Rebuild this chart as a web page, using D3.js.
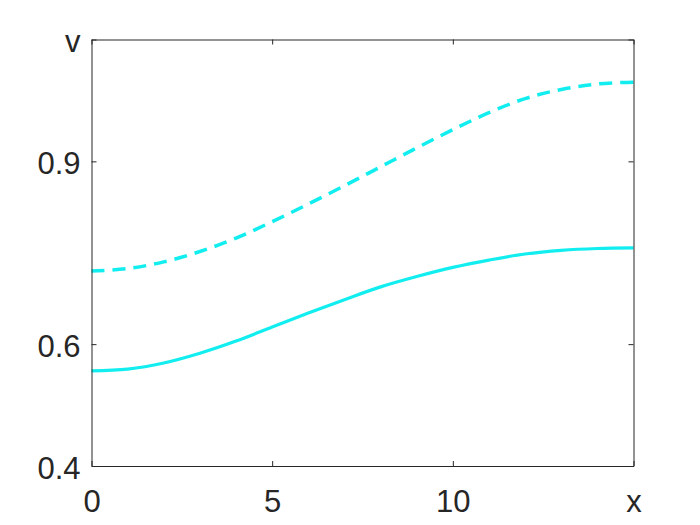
<!DOCTYPE html>
<html>
<head>
<meta charset="utf-8">
<script src="https://cdn.jsdelivr.net/npm/d3@7"></script>
<style>
  body { margin: 0; background: #fff; }
  svg { display: block; }
  .axis text { font-family: "Liberation Sans", Arial, sans-serif; font-size: 31px; fill: #262626; }
  .axis path, .axis line { stroke: #262626; stroke-width: 1; }
</style>
</head>
<body>
<svg width="700" height="525"></svg>
<script>
// values
var xs = [0, 1, 2, 3, 4, 5, 6, 7, 8, 9, 10, 11, 12, 13, 14, 15];
var solid = [0.556, 0.559, 0.569, 0.585, 0.605, 0.628, 0.651, 0.673, 0.694, 0.711, 0.726, 0.738, 0.748, 0.754, 0.757, 0.758];
var dashed = [0.720, 0.724, 0.735, 0.752, 0.774, 0.801, 0.830, 0.860, 0.891, 0.922, 0.952, 0.980, 1.003, 1.018, 1.027, 1.030];
var xTicks = [0, 5, 10, 15], xLabels = ["0", "5", "10", "x"];
var yTicks = [0.4, 0.6, 0.9, 1.1], yLabels = ["0.4", "0.6", "0.9", "v"];

var svg = d3.select("svg"),
    margin = {top: 39.5, right: 66.5, bottom: 59, left: 91.5},
    width = +svg.attr("width") - margin.left - margin.right,
    height = +svg.attr("height") - margin.top - margin.bottom,
    g = svg.append("g").attr("transform", "translate(" + margin.left + "," + margin.top + ")");

var x = d3.scaleLinear().domain([0, 15]).range([0, width]);
var y = d3.scaleLinear().domain([0.4, 1.1]).range([height, 0]);

var line = d3.line()
    .x(function(d, i) { return x(xs[i]); })
    .y(function(d) { return y(d); })
    .curve(d3.curveCatmullRom.alpha(0.5));

g.append("path")
    .datum(dashed)
    .attr("fill", "none")
    .attr("stroke", "#12eef0")
    .attr("stroke-width", 3.5)
    .attr("stroke-dasharray", "13,8")
    .attr("d", line);

g.append("path")
    .datum(solid)
    .attr("fill", "none")
    .attr("stroke", "#12eef0")
    .attr("stroke-width", 3.2)
    .attr("d", line);

// box with inward ticks
g.append("g")
    .attr("class", "axis")
    .attr("transform", "translate(0," + height + ")")
    .call(d3.axisBottom(x).tickValues(xTicks).tickSizeInner(-5).tickSizeOuter(0).tickPadding(24)
      .tickFormat(function(d, i) { return xLabels[i]; }));

g.append("g")
    .attr("class", "axis")
    .call(d3.axisTop(x).tickValues(xTicks).tickSizeInner(-5).tickSizeOuter(0).tickFormat(""));

g.append("g")
    .attr("class", "axis")
    .call(d3.axisLeft(y).tickValues(yTicks).tickSizeInner(-5).tickSizeOuter(0).tickPadding(11)
      .tickFormat(function(d, i) { return yLabels[i]; }))
  .selectAll("text")
    .attr("dy", "0.4em");

g.append("g")
    .attr("class", "axis")
    .attr("transform", "translate(" + width + ",0)")
    .call(d3.axisRight(y).tickValues(yTicks).tickSizeInner(-5).tickSizeOuter(0).tickFormat(""));

g.selectAll(".axis text").attr("font-family", null).attr("font-size", null);
</script>
</body>
</html>
